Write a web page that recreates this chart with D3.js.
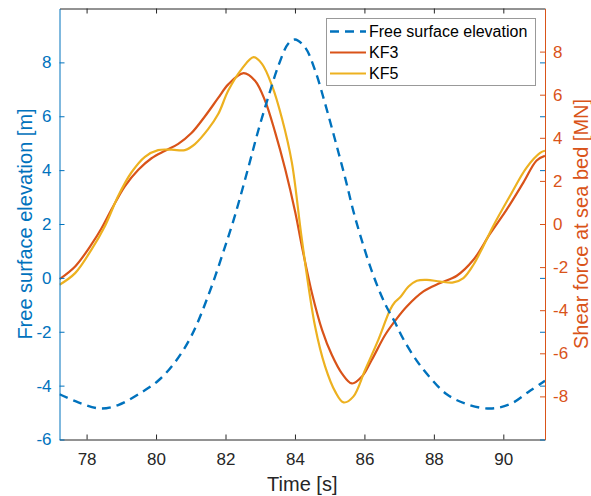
<!DOCTYPE html>
<html>
<head>
<meta charset="utf-8">
<script src="https://cdn.jsdelivr.net/npm/d3@7"></script>
<style>
  body { margin: 0; background: #fff; }
  svg { display: block; font-family: "Liberation Sans", Arial, sans-serif; }
</style>
</head>
<body>
<svg id="chart" width="591" height="496"></svg>
<script>
// values
var etaTime = [77.22, 77.76, 78.39, 78.91, 79.58, 80.06, 80.54, 81.02, 81.50, 81.98, 82.28, 82.66,
  82.95, 83.24, 83.53, 83.81, 84.00, 84.29, 84.58, 84.87, 85.16, 85.44, 85.73, 86.21, 86.60,
  86.88, 87.12, 87.51, 87.89, 88.37, 88.95, 89.62, 90.19, 90.77, 91.20];
var etaValues = [-4.32, -4.62, -4.85, -4.72, -4.25, -3.82, -3.14, -2.15, -0.67, 1.13, 2.35, 4.11,
  5.50, 6.75, 7.90, 8.70, 8.85, 8.56, 7.70, 6.46, 5.10, 3.74, 2.25, 0.26, -0.98,
  -1.65, -2.27, -3.08, -3.70, -4.32, -4.69, -4.85, -4.69, -4.19, -3.82];

var kf3Time = [77.22, 77.67, 78.14, 78.43, 78.72, 79.10, 79.49, 79.87, 80.26, 80.64, 81.02, 81.41,
  81.79, 82.08, 82.52, 82.85, 83.14, 83.43, 83.72, 84.01, 84.20, 84.49, 84.78, 85.06, 85.35,
  85.64, 85.93, 86.21, 86.60, 86.88, 87.22, 87.70, 88.18, 88.66, 89.14, 89.62, 90.10, 90.58,
  90.96, 91.20];
var kf3Values = [-2.56, -1.97, -0.95, -0.20, 0.68, 1.75, 2.52, 3.05, 3.40, 3.72, 4.22, 5.00,
  5.85, 6.48, 7.00, 6.65, 5.72, 4.25, 2.54, 0.53, -1.04, -3.21, -4.91, -6.07, -6.93,
  -7.40, -7.08, -6.31, -5.14, -4.50, -3.83, -3.13, -2.74, -2.40, -1.66, -0.45, 0.68, 1.93,
  2.95, 3.16];

var kf5Time = [77.22, 77.67, 78.14, 78.53, 78.91, 79.29, 79.68, 80.06, 80.45, 80.83, 81.12, 81.50,
  81.79, 82.08, 82.47, 82.81, 83.05, 83.34, 83.63, 83.91, 84.20, 84.58, 84.87, 85.16, 85.40,
  85.68, 86.02, 86.40, 86.74, 86.88, 87.03, 87.27, 87.51, 87.80, 88.18, 88.56, 88.85, 89.14,
  89.42, 89.71, 90.19, 90.67, 91.06, 91.20];
var kf5Values = [-2.82, -2.28, -1.19, -0.09, 1.30, 2.39, 3.12, 3.43, 3.45, 3.43, 3.71, 4.40,
  5.10, 6.19, 7.20, 7.74, 7.43, 6.42, 4.87, 2.86, -0.73, -4.76, -6.62, -7.78, -8.28,
  -8.01, -6.77, -5.38, -3.98, -3.62, -3.40, -2.90, -2.63, -2.59, -2.67, -2.71, -2.51, -1.89,
  -1.04, -0.09, 1.30, 2.62, 3.30, 3.40];

var timeTicks = [78, 80, 82, 84, 86, 88, 90];
var leftTicks = [-6, -4, -2, 0, 2, 4, 6, 8];
var rightTicks = [-8, -6, -4, -2, 0, 2, 4, 6, 8];
var legendNames = ["Free surface elevation", "KF3", "KF5"];

var BLUE = "#0072BD", ORANGE = "#D95319", YELLOW = "#EDB120", DARK = "#262626";

var svg = d3.select("#chart");
var x0 = 59.5, x1 = 545, y0 = 8.5, y1 = 439.5;

var scX = d3.scaleLinear().domain([77.22, 91.2]).range([x0, x1]);
var scL = d3.scaleLinear().domain([-6, 10]).range([y1, y0]);
var scR = d3.scaleLinear().domain([-10, 10]).range([y1, y0]);

svg.append("clipPath").attr("id", "clip")
  .append("rect").attr("x", x0).attr("y", y0).attr("width", x1 - x0).attr("height", y1 - y0);

var plot = svg.append("g").attr("clip-path", "url(#clip)");

var drawLine = function(times, vals, sc, color, dash) {
  var pts = times.map(function(t, i) { return [t, vals[i]]; });
  var lnMkr = d3.line().curve(d3.curveCatmullRom.alpha(0.5))
    .x(function(d) { return scX(d[0]); }).y(function(d) { return sc(d[1]); });
  var p = plot.append("path").attr("fill", "none")
    .attr("stroke", color).attr("stroke-width", dash ? 2.4 : 2.2)
    .attr("d", lnMkr(pts));
  if (dash) p.attr("stroke-dasharray", "9,6");
};

drawLine(kf3Time, kf3Values, scR, ORANGE, false);
drawLine(kf5Time, kf5Values, scR, YELLOW, false);
drawLine(etaTime, etaValues, scL, BLUE, true);

var fmt = function(d) { return String(d); };
var styleAxis = function(g, color, size) {
  g.selectAll(".domain").attr("stroke", color);
  g.selectAll(".tick line").attr("stroke", color);
  g.selectAll(".tick text").attr("fill", color).style("font-size", size + "px");
  g.attr("font-family", null);
};

// bottom and top
var gB = svg.append("g").attr("transform", "translate(0," + y1 + ")")
  .call(d3.axisBottom(scX).tickValues(timeTicks).tickFormat(fmt).tickSize(-5).tickSizeOuter(0).tickPadding(13));
styleAxis(gB, DARK, 17);
var gT = svg.append("g").attr("transform", "translate(0," + y0 + ")")
  .call(d3.axisTop(scX).tickValues(timeTicks).tickFormat("").tickSize(-5).tickSizeOuter(0));
styleAxis(gT, DARK, 17);

// left axis and its mirrored ticks on the right
var gL = svg.append("g").attr("transform", "translate(" + x0 + ",0)")
  .call(d3.axisLeft(scL).tickValues(leftTicks).tickFormat(fmt).tickSize(-5).tickSizeOuter(0).tickPadding(8));
styleAxis(gL, BLUE, 17);
var gLm = svg.append("g").attr("transform", "translate(" + x1 + ",0)")
  .call(d3.axisRight(scL).tickValues(leftTicks).tickFormat("").tickSize(-5).tickSizeOuter(0));
styleAxis(gLm, BLUE, 17);
gLm.select(".domain").remove();

// right axis
var gR = svg.append("g").attr("transform", "translate(" + x1 + ",0)")
  .call(d3.axisRight(scR).tickValues(rightTicks).tickFormat(fmt).tickSize(-5).tickSizeOuter(0).tickPadding(8));
styleAxis(gR, ORANGE, 17);

// axis labels
svg.append("text").attr("x", (x0 + x1) / 2).attr("y", 491)
  .attr("text-anchor", "middle").attr("fill", DARK).style("font-size", "20px")
  .text("Time [s]");
svg.append("text").attr("transform", "translate(32," + (y0 + y1) / 2 + ") rotate(-90)")
  .attr("text-anchor", "middle").attr("fill", BLUE).style("font-size", "20px")
  .text("Free surface elevation [m]");
svg.append("text").attr("transform", "translate(588," + (y0 + y1) / 2 + ") rotate(-90)")
  .attr("text-anchor", "middle").attr("fill", ORANGE).style("font-size", "20px")
  .text("Shear force at sea bed [MN]");

// legend
var lg = svg.append("g");
lg.append("rect").attr("x", 326.5).attr("y", 18.5).attr("width", 209).attr("height", 67)
  .attr("fill", "#fff").attr("stroke", "#999").attr("stroke-width", 1);
var lgColors = [BLUE, ORANGE, YELLOW];
legendNames.forEach(function(name, i) {
  var ly = 31.5 + i * 21;
  var ln = lg.append("line").attr("x1", 330).attr("x2", 366).attr("y1", ly).attr("y2", ly)
    .attr("stroke", lgColors[i]).attr("stroke-width", i === 0 ? 2.4 : 2.2);
  if (i === 0) ln.attr("stroke-dasharray", "9,6");
  lg.append("text").attr("x", 369).attr("y", ly).attr("dy", "0.35em")
    .attr("fill", "#000").style("font-size", "16px").text(name);
});
</script>
</body>
</html>
